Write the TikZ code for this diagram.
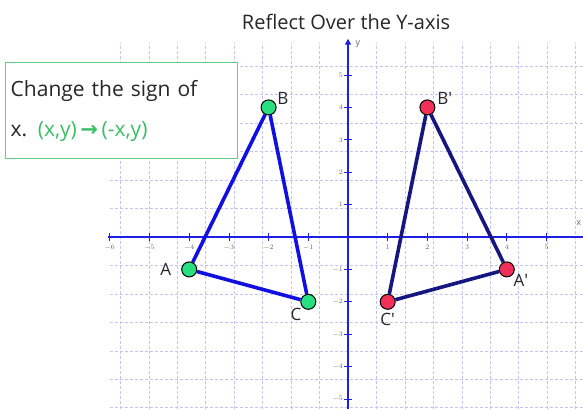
\documentclass[tikz,border=0pt]{standalone}
\usepackage{fontspec}
\setmainfont{Open Sans}
\newfontfamily\symfont{DejaVu Sans}
\usetikzlibrary{positioning, arrows.meta}
\definecolor{gridblue}{RGB}{196,196,240}
\definecolor{axisblue}{RGB}{30,30,230}
\definecolor{edgeblue}{RGB}{16,16,225}
\definecolor{edgenavy}{RGB}{22,22,128}
\definecolor{ptgreen}{RGB}{40,224,128}
\definecolor{ptred}{RGB}{240,48,88}
\definecolor{rulegreen}{RGB}{60,190,100}
\definecolor{boxgreen}{RGB}{100,205,140}
\newcommand{\prm}{\textquotesingle}

\begin{document}
\begin{tikzpicture}[
    x=39.7pt, y=32.4pt,
    gridline/.style={densely dashed, color=gridblue, line width=0.6pt},
    axisline/.style={color=axisblue, line width=1.6pt},
    ticklbl/.style={font=\fontsize{7}{8}\selectfont, text=black!60, inner sep=1pt},
    gpt/.style={circle, draw=black, fill=ptgreen, line width=1pt, minimum size=15pt, inner sep=0pt},
    rpt/.style={circle, draw=black, fill=ptred, line width=1pt, minimum size=15pt, inner sep=0pt},
    leftedge/.style={color=edgeblue, line width=3.6pt},
    rightedge/.style={color=edgenavy, line width=3.6pt},
    ptlbl/.style={font=\fontsize{17}{19}\selectfont, text=black!85, inner sep=1pt},
    rulebox/.style={rectangle, draw=boxgreen, fill=white, line width=1.4pt, text width=222pt, minimum height=96pt, align=left, font=\fontsize{21}{40}\selectfont, text=black!85, inner sep=5pt}
]
\useasboundingbox (-8.766,-5.309) rectangle (5.919,7.315);

% grid
\draw[gridline] (-6,-5.31) grid (5.92,6);

% axes
\draw[axisline] (-6.05,0) -- (5.92,0);
\draw[axisline, -{Triangle[length=6pt, width=6pt]}] (0,-5.31) -- (0,6.12);
\foreach \i in {-6,...,-1,1,2,...,5} {
  \draw[axisline, line width=0.8pt] (\i,0.12) -- (\i,-0.12);
  \node[ticklbl] at (\i,-0.33) {$\i$};
}
\foreach \j in {-5,...,-1,1,2,...,5} {
  \draw[axisline, line width=0.8pt] (-0.1,\j) -- (0.1,\j);
  \node[ticklbl, anchor=east] at (-0.1,\j) {$\j$};
}
\node[ticklbl, font=\fontsize{9}{10}\selectfont] (ylbl) at (0.25,5.95) {y};
\node[ticklbl, font=\fontsize{9}{10}\selectfont, anchor=east] (xlbl) at (5.90,0.43) {x};

% title
\node[font=\fontsize{20}{22}\selectfont, text=black!85] (title) at (-0.05,6.64) {Reflect Over the Y-axis};

% rule box
\node[rulebox, anchor=north west] (rule) at (-8.64,5.40) {Change the sign of\\x. \textcolor{rulegreen}{(x,y)\,{\symfont\bfseries →}\,(-x,y)}};

% points
\node[gpt] (A) at (-4,-1) {};
\node[gpt] (B) at (-2,4) {};
\node[gpt] (C) at (-1,-2) {};
\node[rpt] (A') at (4,-1) {};
\node[rpt] (B') at (2,4) {};
\node[rpt] (C') at (1,-2) {};

% triangles
\draw[leftedge] (A) -- (B) -- (C) -- (A);
\draw[rightedge] (A') -- (B') -- (C') -- (A');

% labels
\node[ptlbl, left=9pt of A] (lA) {A};
\node[ptlbl, above right=-4pt and 2pt of B] (lB) {B};
\node[ptlbl, below left=0pt and 0pt of C] (lC) {C};
\node[ptlbl, below right=-2pt and 0pt of A'] (lA') {A\prm};
\node[ptlbl, above right=-4pt and 3pt of B'] (lB') {B\prm};
\node[ptlbl, below=2pt of C'] (lC') {C\prm};

\end{tikzpicture}
\end{document}
